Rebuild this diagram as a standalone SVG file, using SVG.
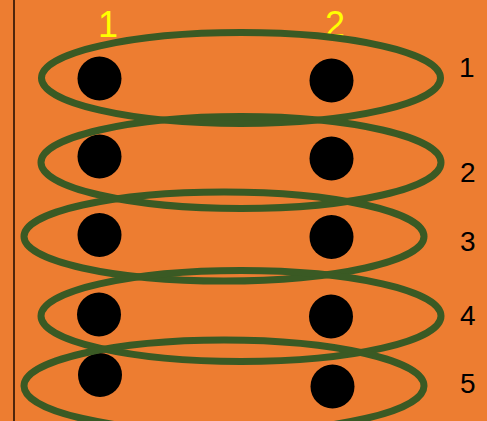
<svg xmlns="http://www.w3.org/2000/svg" width="487" height="421" viewBox="0 0 487 421">
<style>
.dot{fill:#000}
.ring{fill:none;stroke:#3A5A24;stroke-width:7}
.top{font-family:"Liberation Sans",Arial,sans-serif;font-size:36px;fill:#FFFF00}
.row{font-family:"Liberation Sans",Arial,sans-serif;font-size:28px;fill:#000}
</style>
<rect width="487" height="421" fill="#ED7D31"/>
<line x1="14" y1="0" x2="14" y2="421" stroke="#1a0a00" stroke-width="1.5"/>
<g id="column-labels">
<text class="top" x="98" y="37">1</text>
<text class="top" x="325" y="37">2</text>
</g>
<g id="row-labels">
<text class="row" x="459" y="77">1</text>
<text class="row" x="460" y="182">2</text>
<text class="row" x="460" y="251">3</text>
<text class="row" x="460" y="325">4</text>
<text class="row" x="460" y="393">5</text>
</g>
<g id="dots">
<circle class="dot" cx="99.5" cy="78.5" r="22"/>
<circle class="dot" cx="331.5" cy="80.5" r="22"/>
<circle class="dot" cx="99.5" cy="156.5" r="22"/>
<circle class="dot" cx="331.5" cy="158.5" r="22"/>
<circle class="dot" cx="99.5" cy="235" r="22"/>
<circle class="dot" cx="331.5" cy="237" r="22"/>
<circle class="dot" cx="99" cy="314.5" r="22"/>
<circle class="dot" cx="331" cy="316.5" r="22"/>
<circle class="dot" cx="100" cy="375" r="22"/>
<circle class="dot" cx="332.5" cy="386.5" r="22"/>
</g>
<g id="connectors">
<ellipse id="ring1" class="ring" cx="241" cy="78" rx="199.5" ry="45.5"/>
<ellipse id="ring2" class="ring" cx="241" cy="162.5" rx="200" ry="46"/>
<ellipse id="ring3" class="ring" cx="224" cy="236.5" rx="200" ry="44.5"/>
<ellipse id="ring4" class="ring" cx="241" cy="316" rx="200" ry="45.5"/>
<ellipse id="ring5" class="ring" cx="224" cy="386" rx="200" ry="46"/>
</g>
</svg>
